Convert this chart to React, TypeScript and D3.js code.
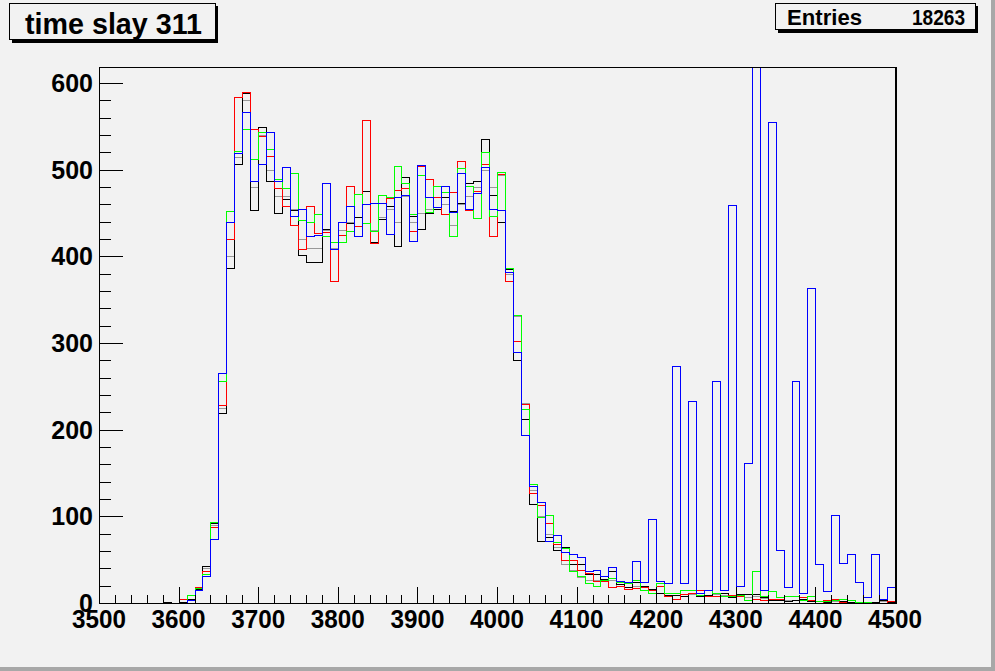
import React from 'react';
import * as d3 from 'd3';

// 100 bins of width 10 from 3500 to 4500
const xMin = 3500;
const xMax = 4500;
const binWidth = 10;
const yMaxHist = 618.5;

const xTickLabels = ['3500', '3600', '3700', '3800', '3900', '4000', '4100', '4200', '4300', '4400', '4500'];
const yTickLabels = ['0', '100', '200', '300', '400', '500', '600'];

const redVals = [
  0, 0, 0, 0, 0, 0, 0, 0, 0, 0,
  5, 4, 18, 37, 88, 228, 420, 584, 590, 547,
  539, 516, 479, 458, 436, 409, 458, 427, 428, 371,
  425, 481, 435, 557, 415, 461, 467, 476, 479, 429,
  504, 489, 468, 449, 474, 510, 454, 475, 506, 423,
  495, 371, 302, 230, 127, 113, 92, 68, 50, 50,
  38, 35, 25, 25, 18, 20, 16, 17, 18, 15,
  20, 8, 5, 10, 11, 15, 8, 8, 8, 9,
  8, 3, 5, 4, 5, 5, 8, 8, 7, 3,
  0, 4, 5, 1, 0, 1, 1, 0, 0, 2,
];
const greenVals = [
  0, 0, 0, 0, 0, 0, 0, 0, 0, 0,
  0, 9, 17, 34, 94, 256, 452, 522, 547, 512,
  543, 524, 489, 479, 496, 442, 440, 449, 424, 417,
  417, 429, 472, 439, 429, 471, 468, 504, 485, 449,
  494, 451, 481, 474, 424, 502, 481, 444, 520, 447,
  497, 387, 332, 224, 137, 99, 102, 70, 63, 37,
  31, 23, 20, 26, 29, 24, 23, 27, 15, 11,
  23, 11, 12, 15, 15, 9, 15, 11, 8, 8,
  9, 4, 37, 8, 14, 7, 8, 8, 4, 8,
  2, 2, 4, 5, 3, 1, 1, 0, 0, 0,
];
const blueVals = [
  0, 0, 0, 0, 0, 0, 0, 0, 0, 0,
  0, 3, 15, 31, 74, 265, 440, 519, 567, 487,
  506, 543, 487, 503, 447, 455, 423, 425, 485, 408,
  440, 458, 424, 460, 461, 461, 426, 469, 471, 418,
  505, 469, 457, 481, 451, 496, 455, 473, 503, 455,
  453, 382, 290, 194, 135, 117, 71, 78, 59, 57,
  53, 37, 38, 31, 41, 25, 24, 49, 24, 97,
  25, 23, 273, 23, 233, 12, 15, 256, 15, 459,
  20, 162, 700, 15, 555, 61, 19, 256, 12, 363,
  45, 14, 102, 46, 56, 24, 7, 56, 5, 19,
];
const blackVals = [
  0, 0, 0, 0, 0, 0, 0, 0, 1, 0,
  1, 5, 16, 43, 92, 219, 386, 507, 589, 453,
  549, 487, 450, 466, 454, 401, 394, 393, 431, 409,
  440, 439, 445, 475, 417, 443, 458, 412, 492, 447,
  431, 450, 455, 468, 452, 462, 485, 487, 535, 471,
  440, 385, 280, 212, 114, 71, 76, 61, 65, 45,
  45, 34, 33, 28, 37, 22, 18, 24, 20, 16,
  12, 9, 9, 8, 12, 8, 9, 12, 11, 7,
  10, 10, 10, 7, 4, 4, 2, 3, 5, 2,
  2, 1, 3, 2, 1, 1, 1, 1, 3, 1,
];
const grayVals = [
  0, 0, 0, 0, 0, 0, 0, 0, 0, 0,
  0, 4, 16, 40, 90, 225, 400, 515, 580, 480,
  540, 500, 470, 470, 455, 420, 410, 410, 430, 410,
  430, 440, 445, 460, 430, 445, 455, 440, 470, 440,
  450, 455, 455, 460, 436, 460, 470, 480, 500, 480,
  494, 380, 331, 231, 130, 100, 80, 65, 45, 38,
  30, 27, 27, 25, 27, 20, 18, 20, 18, 15,
  12, 9, 9, 8, 10, 8, 9, 10, 9, 7,
  8, 7, 8, 6, 4, 4, 3, 3, 4, 2,
  2, 1, 2, 2, 1, 1, 1, 1, 2, 1,
];

const seriesList = [
  { name: 'gray', color: '#999999', values: grayVals },
  { name: 'black', color: '#000000', values: blackVals },
  { name: 'red', color: '#ff0000', values: redVals },
  { name: 'green', color: '#00ff00', values: greenVals },
  { name: 'blue', color: '#0000ff', values: blueVals },
];

const W = 995;
const H = 671;
const frame = { left: 99, right: 895, top: 67, bottom: 603 };
const bg = '#f2f2f2';
const font = "'Liberation Sans', Arial, Helvetica, sans-serif";

export default function App() {
  const x = d3.scaleLinear().domain([xMin, xMax]).range([frame.left, frame.right]);
  const y = d3.scaleLinear().domain([0, yMaxHist]).range([frame.bottom, frame.top]);

  const histPath = (vals: number[]) => {
    const pts: [number, number][] = [[xMin, 0]];
    vals.forEach((v, i) => {
      const a = xMin + i * binWidth;
      pts.push([a, v]);
      pts.push([a + binWidth, v]);
    });
    pts.push([xMax, 0]);
    const line = d3
      .line<[number, number]>()
      .x((d) => Math.round(x(d[0])) + 0.5)
      .y((d) => Math.round(y(d[1])) + 0.5);
    return line(pts) || '';
  };

  const majorX = d3.range(xMin, xMax + 1, 100);
  const minorX = d3.range(xMin, xMax + 1, 20).filter((v) => v % 100 !== 0);
  const majorY = d3.range(0, 601, 100);
  const minorY = d3.range(0, yMaxHist, 20).filter((v) => v % 100 !== 0);

  return (
    <div style={{ position: 'fixed', left: 0, top: 0, width: W, height: H }}>
      <svg width={W} height={H} style={{ display: 'block' }} fontFamily={font}>
        <defs>
          <clipPath id="frameClip">
            <rect x={frame.left} y={frame.top} width={frame.right - frame.left} height={frame.bottom - frame.top} />
          </clipPath>
        </defs>
        <rect x={0} y={0} width={W} height={H} fill={bg} />
        {/* canvas bevel */}
        <rect x={W - 4} y={0} width={4} height={H} fill="#a8a8a8" />
        <rect x={0} y={H - 4} width={W} height={4} fill="#a8a8a8" />

        {/* histograms */}
        <g clipPath="url(#frameClip)" fill="none" strokeWidth={1} shapeRendering="crispEdges">
          {seriesList.map((s) => (
            <path key={s.name} d={histPath(s.values)} stroke={s.color} />
          ))}
        </g>

        <rect x={frame.left + 0.5} y={frame.top + 0.5} width={frame.right - frame.left} height={frame.bottom - frame.top} fill="none" stroke="#000" strokeWidth={1} shapeRendering="crispEdges" />
        <line x1={frame.right + 1.5} x2={frame.right + 1.5} y1={frame.top} y2={frame.bottom + 1} stroke="#000" strokeWidth={1} />

        {/* ticks */}
        <g stroke="#000" strokeWidth={1} shapeRendering="crispEdges">
          {majorX.map((v) => (
            <line key={'mx' + v} x1={Math.round(x(v)) + 0.5} x2={Math.round(x(v)) + 0.5} y1={frame.bottom} y2={frame.bottom - 16} />
          ))}
          {minorX.map((v) => (
            <line key={'nx' + v} x1={Math.round(x(v)) + 0.5} x2={Math.round(x(v)) + 0.5} y1={frame.bottom} y2={frame.bottom - 8} />
          ))}
          {majorY.map((v) => (
            <line key={'my' + v} x1={frame.left} x2={frame.left + 24} y1={Math.round(y(v)) + 0.5} y2={Math.round(y(v)) + 0.5} />
          ))}
          {minorY.map((v) => (
            <line key={'ny' + v} x1={frame.left} x2={frame.left + 12} y1={Math.round(y(v)) + 0.5} y2={Math.round(y(v)) + 0.5} />
          ))}
        </g>

        {/* x labels */}
        <g fontSize={25} fontWeight="bold" fill="#000" textAnchor="middle">
          {xTickLabels.map((t) => (
            <text key={t} x={x(+t)} y={628} textLength={54} lengthAdjust="spacingAndGlyphs">{t}</text>
          ))}
        </g>
        {/* y labels */}
        <g fontSize={25} fontWeight="bold" fill="#000" textAnchor="end">
          {yTickLabels.map((t) => (
            <text key={t} x={93} y={y(+t) + 9}>{t}</text>
          ))}
        </g>

        {/* title box */}
        <rect x={12} y={6} width={206} height={37} fill="#000" />
        <rect x={9.5} y={3.5} width={206} height={36} fill={bg} stroke="#000" strokeWidth={1} />
        <text x={25} y={34} fontSize={30} fontWeight="bold" fill="#000" textLength={177} lengthAdjust="spacingAndGlyphs">time slay 311</text>

        {/* stats box */}
        <rect x={778} y={6} width={200} height={27} fill="#000" />
        <rect x={775.5} y={3.5} width={200} height={26} fill={bg} stroke="#000" strokeWidth={1} />
        <text x={787} y={25} fontSize={22} fontWeight="bold" fill="#000" textLength={75} lengthAdjust="spacingAndGlyphs">Entries</text>
        <text x={965} y={25} fontSize={22} fontWeight="bold" fill="#000" textAnchor="end" textLength={53} lengthAdjust="spacingAndGlyphs">18263</text>
      </svg>
    </div>
  );
}
